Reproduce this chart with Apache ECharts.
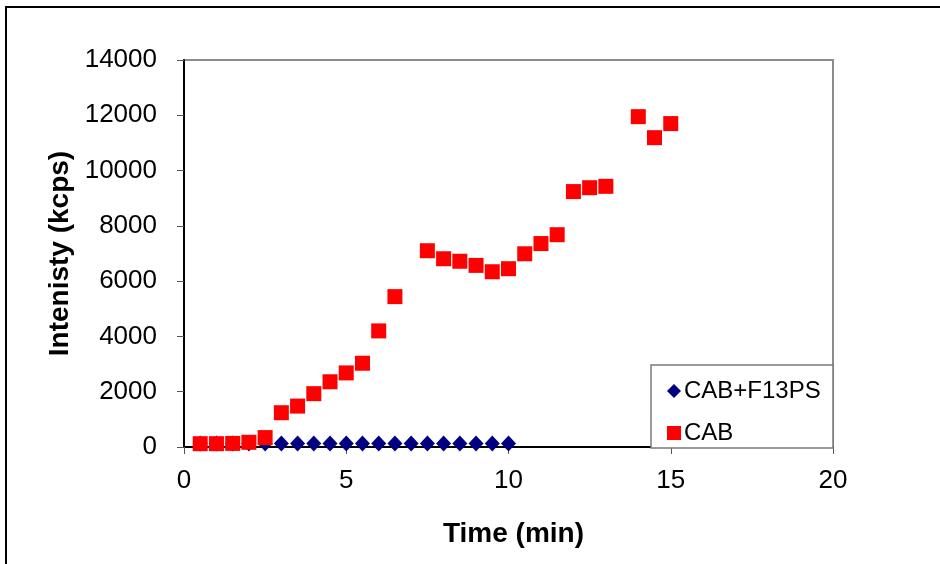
<!DOCTYPE html>
<html>
<head>
<meta charset="utf-8">
<script src="https://cdn.jsdelivr.net/npm/echarts@6/dist/echarts.min.js"></script>
<style>
  html, body { margin: 0; padding: 0; background: #fff; }
  #chart { width: 940px; height: 564px; }
</style>
</head>
<body>
<div id="chart"></div>
<script>
// Sampling times (min)
const timeF13 = [0.5, 1, 1.5, 2, 2.5, 3, 3.5, 4, 4.5, 5, 5.5, 6, 6.5, 7, 7.5, 8, 8.5, 9, 9.5, 10];
const timeCAB = [0.5, 1, 1.5, 2, 2.5, 3, 3.5, 4, 4.5, 5, 5.5, 6, 6.5, 7.5, 8, 8.5, 9, 9.5, 10, 10.5, 11, 11.5, 12, 12.5, 13, 14, 14.5, 15];

// Intensity (kcps)
const intensityF13 = [130, 130, 130, 130, 130, 130, 130, 130, 130, 130, 130, 130, 130, 130, 130, 130, 130, 130, 130, 130];
const intensityCAB = [120, 120, 130, 170, 340, 1240, 1480, 1930, 2360, 2680, 3030, 4200, 5440, 7100, 6810, 6720, 6570, 6340, 6450, 6990, 7360, 7680, 9240, 9380, 9430, 11950, 11190, 11700];

const seriesNames = ['CAB+F13PS', 'CAB'];
const xTitle = 'Time (min)';
const yTitle = 'Intenisty (kcps)';

const pair = (xs, ys) => xs.map((x, i) => [x, ys[i]]);

const FONT = '"Liberation Sans", Arial, sans-serif';

const chart = echarts.init(document.getElementById('chart'), null, { renderer: 'canvas' });
chart.setOption({
  animation: false,
  backgroundColor: '#fff',
  textStyle: { fontFamily: FONT, color: '#000' },
  grid: {
    left: 184, top: 60, right: 107, bottom: 117,
    show: true, borderColor: '#8c8c8c', borderWidth: 2, backgroundColor: '#fff'
  },
  graphic: [
    {
      type: 'rect', z: 0,
      shape: { x: 6, y: 7, width: 1000, height: 1000 },
      style: { fill: null, stroke: '#000', lineWidth: 2 }
    },
    {
      type: 'rect', z: 5,
      shape: { x: 651, y: 365, width: 182, height: 83 },
      style: { fill: '#fff', stroke: '#7a7a7a', lineWidth: 1.5 }
    }
  ],
  legend: {
    orient: 'vertical',
    left: 662, top: 374,
    itemWidth: 14, itemHeight: 14, itemGap: 18,
    z: 10,
    textStyle: { fontFamily: FONT, fontSize: 24, color: '#000', padding: [0, 0, 0, -2] },
    data: [
      { name: seriesNames[0], icon: 'diamond' },
      { name: seriesNames[1], icon: 'rect' }
    ]
  },
  xAxis: {
    type: 'value', min: 0, max: 20, interval: 5,
    name: xTitle, nameLocation: 'middle', nameGap: 73,
    nameTextStyle: { fontFamily: FONT, fontSize: 28, fontWeight: 'bold', color: '#000', padding: [0, 0, 0, 10] },
    axisLine: { show: true, onZero: false, lineStyle: { color: '#000', width: 2 } },
    axisTick: { show: true, inside: false, length: 7, lineStyle: { color: '#555', width: 1 } },
    axisLabel: { fontFamily: FONT, fontSize: 26, color: '#000', margin: 21 },
    splitLine: { show: false }
  },
  yAxis: {
    type: 'value', min: 0, max: 14000, interval: 2000,
    name: yTitle, nameLocation: 'middle', nameGap: 108, nameRotate: 90,
    nameTextStyle: { fontFamily: FONT, fontSize: 28, fontWeight: 'bold', color: '#000' },
    axisLine: { show: true, onZero: false, lineStyle: { color: '#000', width: 2 } },
    axisTick: { show: true, inside: false, length: 7, lineStyle: { color: '#555', width: 1 } },
    axisLabel: { fontFamily: FONT, fontSize: 26, color: '#000', margin: 27, formatter: v => String(v) },
    splitLine: { show: false }
  },
  series: [
    {
      name: seriesNames[0], type: 'scatter', z: 3,
      symbol: 'diamond', symbolSize: [15, 16],
      itemStyle: { color: '#000080', opacity: 1 },
      data: pair(timeF13, intensityF13)
    },
    {
      name: seriesNames[1], type: 'scatter', z: 4,
      symbol: 'rect', symbolSize: 15,
      itemStyle: { color: '#ff0000', opacity: 1 },
      data: pair(timeCAB, intensityCAB)
    }
  ]
});
</script>
</body>
</html>
